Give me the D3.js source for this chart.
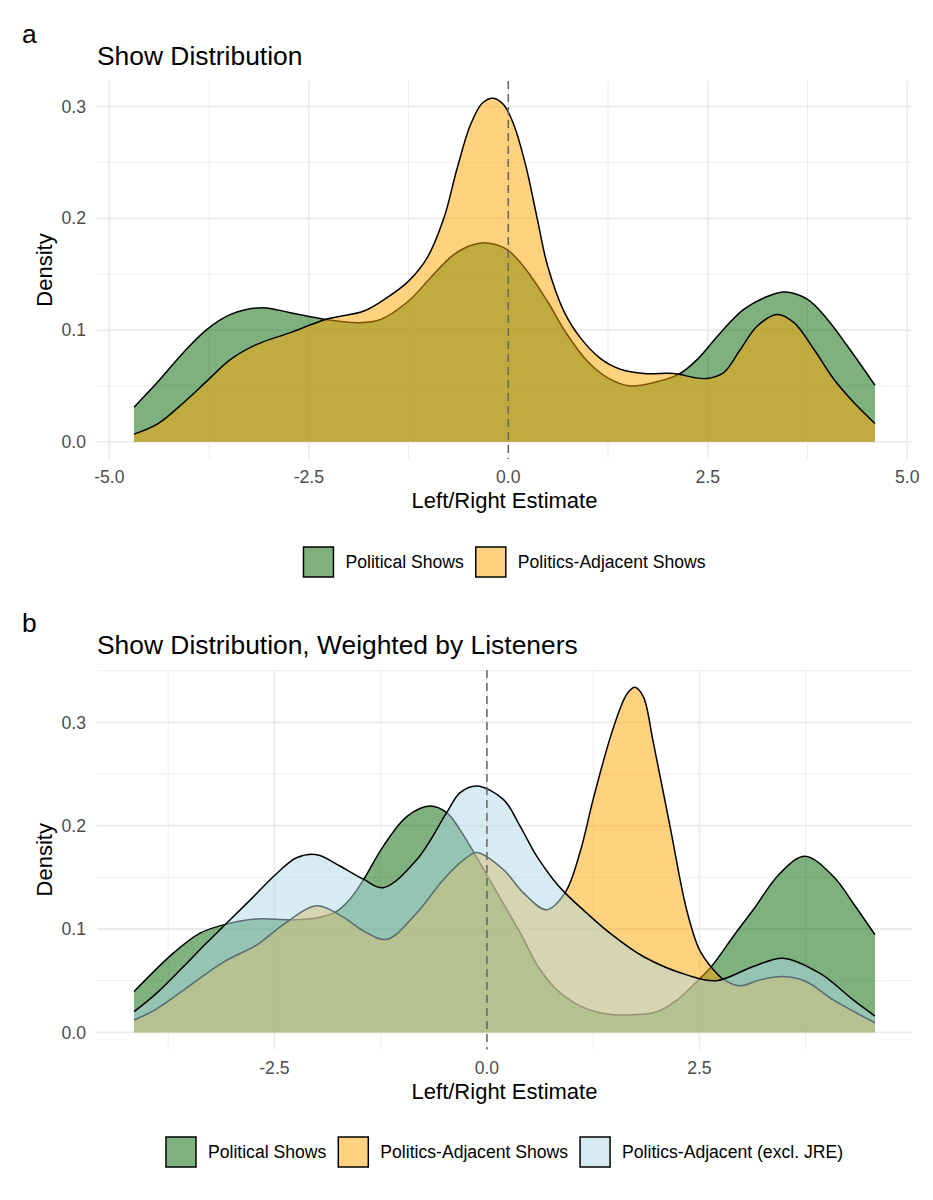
<!DOCTYPE html>
<html>
<head>
<meta charset="utf-8">
<script src="https://cdn.jsdelivr.net/npm/d3@7"></script>
<style>
  body { margin: 0; background: #fff; }
  text { font-family: "Liberation Sans", Arial, Helvetica, sans-serif; }
</style>
</head>
<body>
<div id="chart"></div>
<script>
// ---- data ----

// panel a: unweighted
var aPoliticalX = [-4.69, -4.40, -4.07, -3.775, -3.48, -3.085, -2.73, -2.29, -1.87, -1.60, -1.25, -0.975, -0.683, -0.432, -0.265, -0.014, 0.237, 0.488, 0.738, 0.989, 1.24, 1.532, 1.824, 2.138, 2.37, 2.66, 2.95, 3.245, 3.46, 3.75, 4.0, 4.25, 4.595];
var aPoliticalY = [0.031, 0.053, 0.080, 0.1006, 0.114, 0.120, 0.1155, 0.1095, 0.1066, 0.1095, 0.126, 0.1468, 0.1676, 0.1765, 0.178, 0.172, 0.1527, 0.126, 0.096, 0.0723, 0.0575, 0.050, 0.053, 0.0605, 0.0738, 0.0977, 0.1185, 0.130, 0.134, 0.1274, 0.1095, 0.0857, 0.0506];

var aAdjacentX = [-4.69, -4.40, -4.07, -3.775, -3.48, -3.15, -2.73, -2.29, -1.81, -1.52, -1.25, -1.017, -0.808, -0.64, -0.474, -0.327, -0.19, -0.056, 0.069, 0.216, 0.362, 0.488, 0.696, 0.905, 1.156, 1.406, 1.741, 1.99, 2.138, 2.326, 2.49, 2.70, 2.91, 3.12, 3.37, 3.58, 3.83, 4.08, 4.33, 4.595];
var aAdjacentY = [0.0069, 0.0158, 0.035, 0.0545, 0.0738, 0.0872, 0.0977, 0.1095, 0.117, 0.129, 0.1438, 0.1646, 0.200, 0.245, 0.2837, 0.303, 0.3075, 0.3015, 0.2837, 0.248, 0.200, 0.1587, 0.117, 0.093, 0.0745, 0.065, 0.061, 0.0613, 0.0605, 0.0575, 0.0567, 0.062, 0.0828, 0.1036, 0.114, 0.1066, 0.0828, 0.056, 0.0352, 0.0164];

// panel b: weighted by listeners
var bPoliticalX = [-4.152, -3.69, -3.375, -3.10, -2.71, -2.316, -2.0, -1.77, -1.6, -1.45, -1.22, -0.94, -0.67, -0.473, -0.316, -0.16, 0.19, 0.4, 0.6, 0.8, 1.0, 1.2, 1.4, 1.57, 2.0, 2.233, 2.467, 2.645, 2.9, 3.134, 3.45, 3.742, 4.075, 4.31, 4.566];
var bPoliticalY = [0.0395, 0.0767, 0.096, 0.104, 0.1097, 0.109, 0.1107, 0.117, 0.13, 0.148, 0.18, 0.209, 0.219, 0.2126, 0.196, 0.175, 0.125, 0.095, 0.064, 0.043, 0.030, 0.022, 0.018, 0.0168, 0.020, 0.031, 0.0490, 0.064, 0.093, 0.1187, 0.154, 0.1705, 0.151, 0.125, 0.0945];

var bAdjacentX = [-4.152, -3.9, -3.5, -3.1, -2.7, -2.4, -2.0, -1.7, -1.45, -1.18, -0.826, -0.51, -0.24, -0.12, 0.193, 0.43, 0.70, 0.919, 1.095, 1.25, 1.45, 1.6, 1.66, 1.742, 1.84, 1.958, 2.154, 2.35, 2.5, 2.645, 2.78, 2.976, 3.213, 3.487, 3.76, 4.075, 4.566];
var bAdjacentY = [0.012, 0.022, 0.045, 0.068, 0.085, 0.104, 0.1226, 0.112, 0.098, 0.090, 0.1155, 0.148, 0.169, 0.174, 0.1576, 0.135, 0.1187, 0.135, 0.174, 0.2255, 0.285, 0.32, 0.329, 0.334, 0.325, 0.2806, 0.1996, 0.1187, 0.080, 0.0625, 0.0514, 0.045, 0.0508, 0.054, 0.049, 0.0314, 0.0093];

var bNoJreX = [-4.152, -3.885, -3.57, -3.30, -3.06, -2.787, -2.47, -2.24, -2.0, -1.73, -1.45, -1.22, -0.826, -0.473, -0.316, -0.12, 0.193, 0.39, 0.586, 0.78, 0.919, 1.174, 1.448, 1.84, 2.35, 2.70, 3.134, 3.487, 3.92, 4.31, 4.566];
var bNoJreY = [0.020, 0.038, 0.0637, 0.0864, 0.1058, 0.128, 0.154, 0.169, 0.172, 0.161, 0.148, 0.14, 0.167, 0.2126, 0.232, 0.2385, 0.2255, 0.1996, 0.1705, 0.148, 0.135, 0.1155, 0.096, 0.0734, 0.0556, 0.050, 0.0637, 0.0718, 0.057, 0.0314, 0.0158];

var seriesNames = ["Political Shows", "Politics-Adjacent Shows", "Politics-Adjacent (excl. JRE)"];
var seriesFills = ["rgb(0,100,0)", "rgb(255,165,0)", "rgb(173,216,230)"];

var aTicksX = [-5, -2.5, 0, 2.5, 5];
var bTicksX = [-2.5, 0, 2.5];
var minorTicksX = [-3.75, -1.25, 1.25, 3.75];
var ticksY = [0, 0.1, 0.2, 0.3];
var minorTicksY = [0.05, 0.15, 0.25, 0.35];

// ---- drawing ----
var width = 933, height = 1200;
var svg = d3.select("#chart").append("svg")
    .attr("width", width)
    .attr("height", height);

// plain hyphen minus like R prints it
var fmt = function(d) { return d3.format(".1f")(d).replace("\u2212", "-"); };

function zip(xs, ys) { return xs.map(function(v, i) { return [v, ys[i]]; }); }

function drawPanel(cfg) {
    var g = svg.append("g");
    var allX = [], allY = [0];
    cfg.series.forEach(function(s) { allX = allX.concat(s.x); allY = allY.concat(s.y); });

    // ggplot style 5% expansion
    var xe = d3.extent(allX), ye = d3.extent(allY);
    var xp = (xe[1] - xe[0]) * 0.05, yp = (ye[1] - ye[0]) * 0.05;
    var x = d3.scaleLinear().domain([xe[0] - xp, xe[1] + xp]).range([97, 912]);
    var y = d3.scaleLinear().domain([ye[0] - yp, ye[1] + yp]).range([cfg.bottom, cfg.top]);
    var inX = function(v) { return v >= x.domain()[0] && v <= x.domain()[1]; };
    var inY = function(v) { return v >= y.domain()[0] && v <= y.domain()[1]; };

    // grid
    g.selectAll(".vminor").data(minorTicksX.filter(inX)).enter().append("line")
        .attr("x1", d => x(d)).attr("x2", d => x(d))
        .attr("y1", cfg.top).attr("y2", cfg.bottom)
        .attr("stroke", "#ebebeb").attr("stroke-width", 0.9);
    g.selectAll(".hminor").data(minorTicksY.filter(inY)).enter().append("line")
        .attr("x1", 97).attr("x2", 912)
        .attr("y1", d => y(d)).attr("y2", d => y(d))
        .attr("stroke", "#ebebeb").attr("stroke-width", 0.9);
    g.selectAll(".vmajor").data(cfg.ticksX).enter().append("line")
        .attr("x1", d => x(d)).attr("x2", d => x(d))
        .attr("y1", cfg.top).attr("y2", cfg.bottom)
        .attr("stroke", "#ebebeb").attr("stroke-width", 1.8);
    g.selectAll(".hmajor").data(ticksY).enter().append("line")
        .attr("x1", 97).attr("x2", 912)
        .attr("y1", d => y(d)).attr("y2", d => y(d))
        .attr("stroke", "#ebebeb").attr("stroke-width", 1.8);

    // densities, fill then upper outline per group
    var area = d3.area()
        .x(d => x(d[0])).y0(y(0)).y1(d => y(d[1]))
        .curve(d3.curveCatmullRom.alpha(0.5));
    var line = d3.line()
        .x(d => x(d[0])).y(d => y(d[1]))
        .curve(d3.curveCatmullRom.alpha(0.5));
    cfg.series.forEach(function(s, i) {
        var pts = zip(s.x, s.y);
        g.append("path").datum(pts)
            .attr("d", area)
            .attr("fill", seriesFills[i]).attr("fill-opacity", 0.5);
        g.append("path").datum(pts)
            .attr("d", line)
            .attr("fill", "none").attr("stroke", "#000").attr("stroke-width", 1.5);
    });

    // zero line
    g.append("line")
        .attr("x1", x(0)).attr("x2", x(0))
        .attr("y1", cfg.top).attr("y2", cfg.bottom)
        .attr("stroke", "#666").attr("stroke-width", 1.5)
        .attr("stroke-dasharray", "8,5");

    // tick labels
    g.selectAll(".xl").data(cfg.ticksX).enter().append("text")
        .attr("x", d => x(d)).attr("y", cfg.bottom + 24)
        .attr("text-anchor", "middle")
        .attr("font-size", 17.6).attr("fill", "#4d4d4d")
        .text(fmt);
    g.selectAll(".yl").data(ticksY).enter().append("text")
        .attr("x", 86).attr("y", d => y(d))
        .attr("dy", "0.35em")
        .attr("text-anchor", "end")
        .attr("font-size", 17.6).attr("fill", "#4d4d4d")
        .text(fmt);

    // axis titles
    g.append("text")
        .attr("x", 504.5).attr("y", cfg.bottom + 49)
        .attr("text-anchor", "middle").attr("font-size", 22)
        .text("Left/Right Estimate");
    g.append("text")
        .attr("transform", "translate(52," + ((cfg.top + cfg.bottom) / 2) + ") rotate(-90)")
        .attr("text-anchor", "middle").attr("font-size", 22)
        .text("Density");

    // tag and title
    g.append("text").attr("x", 22).attr("y", cfg.top - 38)
        .attr("font-size", 26.4).text(cfg.tag);
    g.append("text").attr("x", 97).attr("y", cfg.top - 16)
        .attr("font-size", 26.4).text(cfg.title);

    // legend, centred under the plot
    var n = cfg.series.length;
    var lg = g.append("g");
    var cx = 0;
    for (var i = 0; i < n; i++) {
        var item = lg.append("g").attr("transform", "translate(" + cx + ",0)");
        item.append("rect")
            .attr("x", 0).attr("y", -15).attr("width", 30).attr("height", 30)
            .attr("fill", "#fff");
        item.append("rect")
            .attr("x", 0).attr("y", -15).attr("width", 30).attr("height", 30)
            .attr("fill", seriesFills[i]).attr("fill-opacity", 0.5)
            .attr("stroke", "#000").attr("stroke-width", 1.5);
        var t = item.append("text")
            .attr("x", 42).attr("dy", "0.35em")
            .attr("font-size", 17.6)
            .text(seriesNames[i]);
        cx += 42 + t.node().getComputedTextLength() + 12;
    }
    var lw = cx - 12;
    lg.attr("transform", "translate(" + (504.5 - lw / 2) + "," + cfg.legendY + ")");
}

drawPanel({
    tag: "a", title: "Show Distribution",
    top: 81, bottom: 459, legendY: 562,
    ticksX: aTicksX,
    series: [{x: aPoliticalX, y: aPoliticalY}, {x: aAdjacentX, y: aAdjacentY}]
});

drawPanel({
    tag: "b", title: "Show Distribution, Weighted by Listeners",
    top: 670, bottom: 1049.6, legendY: 1152,
    ticksX: bTicksX,
    series: [{x: bPoliticalX, y: bPoliticalY}, {x: bAdjacentX, y: bAdjacentY}, {x: bNoJreX, y: bNoJreY}]
});
</script>
</body>
</html>
